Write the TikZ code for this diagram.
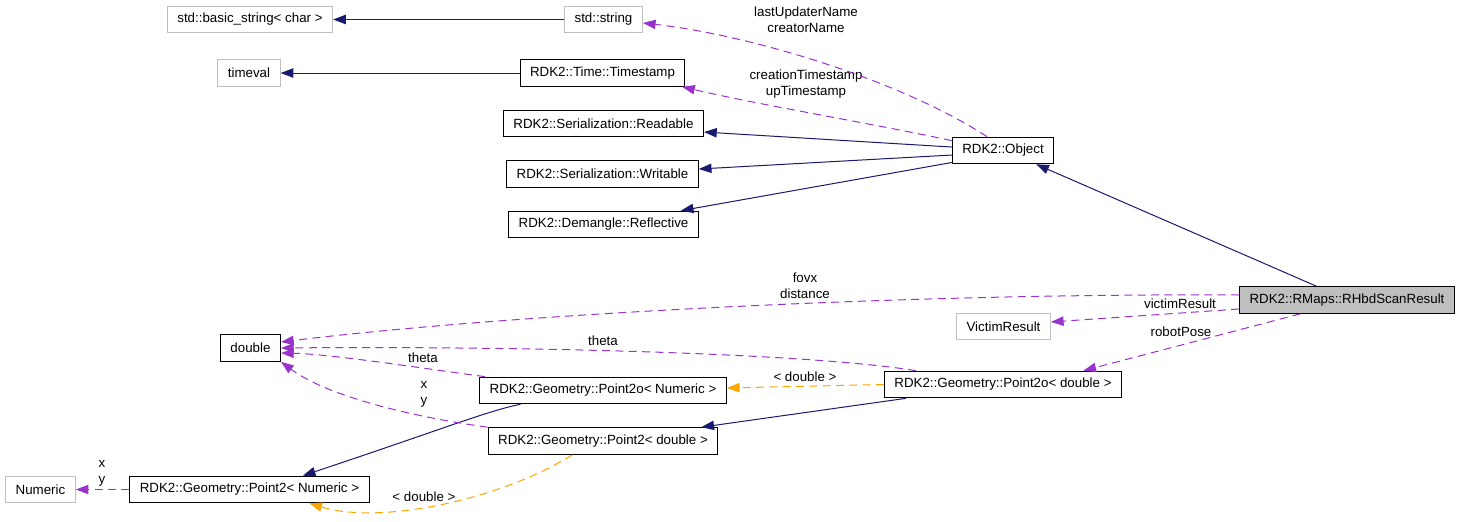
\documentclass[tikz,border=0pt]{standalone}
\usepackage{fontspec}
\setmainfont{Liberation Sans}
\usepackage{tikz}
\usetikzlibrary{arrows.meta}
\definecolor{inherit}{HTML}{191970}
\definecolor{usage}{HTML}{9A32CD}
\definecolor{templ}{HTML}{FFA500}
\definecolor{extbox}{HTML}{BFBFBF}

\begin{document}
\begin{tikzpicture}[x=0.75pt,y=-0.75pt,
    font=\fontsize{10}{12}\selectfont,
    cls/.style={rectangle,draw,line width=0.75pt,inner xsep=7.5pt,inner ysep=0pt,minimum height=20pt},
    ext/.style={cls,draw=extbox},
    cur/.style={cls,fill=extbox},
    lbl/.style={align=center,inner sep=0pt},
    base/.style={-{Triangle[length=9.5pt,width=7pt]},line width=0.75pt,color=inherit},
    member/.style={base,color=usage,dash pattern=on 6pt off 4pt},
    tmpl/.style={base,color=templ,dash pattern=on 6pt off 4pt}
]
\useasboundingbox (0,0) rectangle (1459,521);
\node[ext] (bstr) at (250,19.5) {std::basic\_string< char >};
\node[ext] (str) at (603.5,19.5) {std::string};
\node[ext] (tv) at (249,73) {timeval};
\node[cls] (ts) at (602.5,73) {RDK2::Time::Timestamp};
\node[cls] (rd) at (603.5,123.5) {RDK2::Serialization::Readable};
\node[cls] (wr) at (602.5,174) {RDK2::Serialization::Writable};
\node[cls] (rf) at (603.5,224.5) {RDK2::Demangle::Reflective};
\node[cls] (obj) at (1003,150.5) {RDK2::Object};
\node[cur] (rhbd) at (1347,300) {RDK2::RMaps::RHbdScanResult};
\node[ext] (vr) at (1003.5,326.5) {VictimResult};
\node[cls] (dbl) at (250.5,348) {double};
\node[cls] (p2on) at (603,390.5) {RDK2::Geometry::Point2o< Numeric >};
\node[cls] (p2od) at (1003,384.5) {RDK2::Geometry::Point2o< double >};
\node[cls] (p2d) at (603,441) {RDK2::Geometry::Point2< double >};
\node[ext] (num) at (40.5,489.5) {Numeric};
\node[cls] (p2n) at (249.5,489.5) {RDK2::Geometry::Point2< Numeric >};
\node[lbl] (lname) at (806,20) {lastUpdaterName\\creatorName};
\node[lbl] (lstamp) at (806,84.5) {creationTimestamp\\upTimestamp};
\node[lbl] (ldist) at (805,285.5) {fovx\\distance};
\node[lbl] (lvictim) at (1180,304) {victimResult};
\node[lbl] (lpose) at (1181,332) {robotPose};
\node[lbl] (ltheta) at (603,341) {theta};
\node[lbl] (lthetan) at (423,358) {theta};
\node[lbl] (lxy) at (424,394.5) {x\\y};
\node[lbl] (lxyn) at (102,473) {x\\y};
\node[lbl] (ltmpl) at (805,377) {< double >};
\node[lbl] (ltmpln) at (424,497) {< double >};
\draw[base] (str.west) -- (bstr.east);
\draw[base] (ts.west) -- (tv.east);
\draw[base] ([yshift=2.6pt]obj.west) -- ([yshift=-6.4pt]rd.east);
\draw[base] ([yshift=-3.4pt]obj.west) -- ([yshift=3.75pt]wr.east);
\draw[base] ([yshift=-9pt]obj.west) -- ([xshift=-13.5pt]rf.north east);
\draw[base] ([xshift=-23pt]rhbd.north) -- ([xshift=-13.5pt]obj.south east);
\draw[base] ([xshift=16.5pt]p2od.south west) -- ([xshift=-12.75pt]p2d.north east);
\draw[base] ([xshift=31pt]p2on.south west) .. controls (490,410) and (440,430) .. ([xshift=40pt]p2n.north);
\draw[member] ([xshift=-12pt]obj.north) .. controls (900,80) and (750,35) .. ([yshift=-2.6pt]str.east);
\draw[member] ([yshift=-3pt]obj.north west) .. controls (880,125) and (760,105) .. ([xshift=-2.5pt]ts.south east);
\draw[member] ([yshift=3.75pt]rhbd.west) .. controls (900,293) and (500,315) .. ([yshift=4.5pt]dbl.east);
\draw[member] ([yshift=-6.75pt]rhbd.west) -- ([yshift=3.4pt]vr.east);
\draw[member] ([xshift=-35pt]rhbd.south) -- ([xshift=-29pt]p2od.north east);
\draw[member] ([xshift=24pt]p2od.north west) .. controls (800,352) and (500,346) .. (dbl.east);
\draw[member] ([xshift=4.5pt]p2on.north west) .. controls (420,368) and (330,354) .. ([yshift=-3.75pt]dbl.east);
\draw[member] (p2d.north west) .. controls (420,418) and (330,398) .. (dbl.south east);
\draw[member] (p2n.west) -- (num.east);
\draw[tmpl] (p2od.west) -- ([yshift=1.9pt]p2on.east);
\draw[tmpl] ([xshift=-23pt]p2d.south) .. controls (500,500) and (380,525) .. ([xshift=45pt]p2n.south);
\end{tikzpicture}
\end{document}
